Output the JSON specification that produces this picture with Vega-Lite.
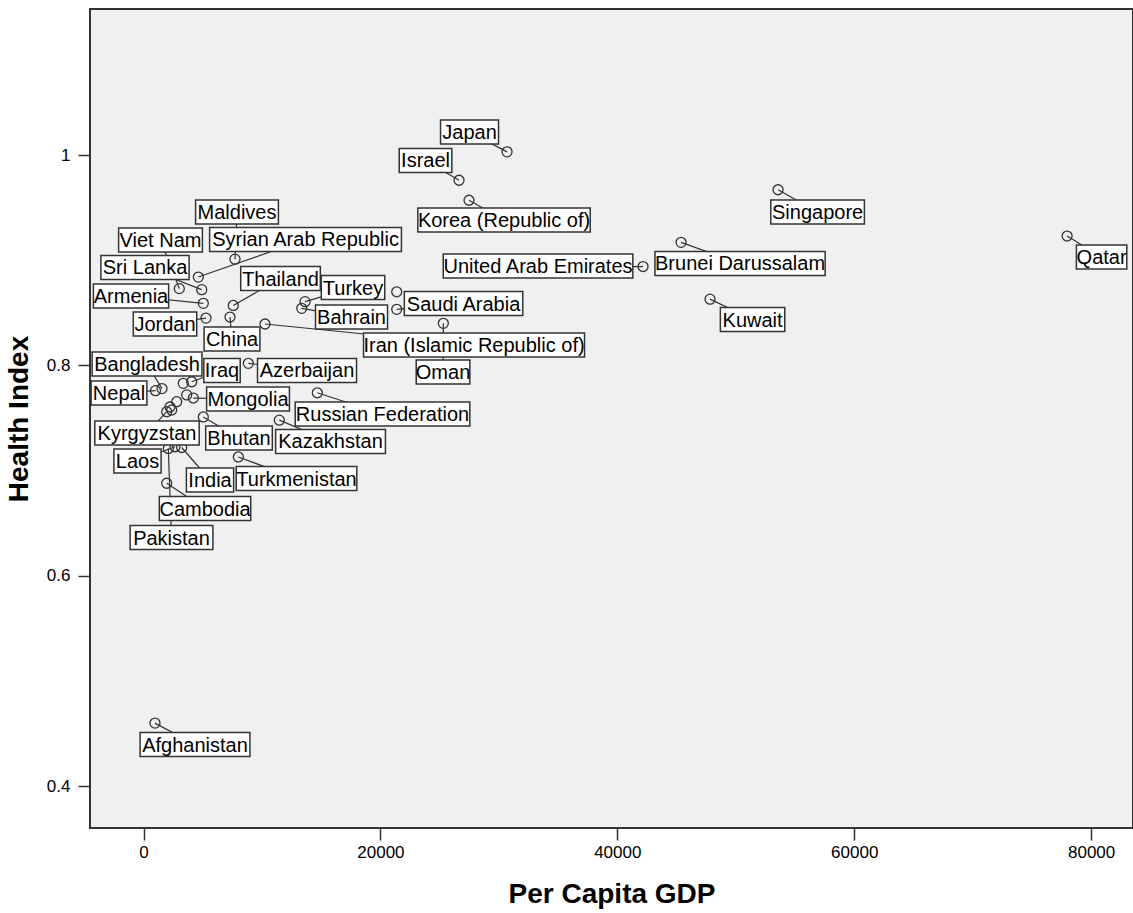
{
  "$schema": "https://vega.github.io/schema/vega-lite/v6.json",
  "width": 1043,
  "height": 819,
  "autosize": {"type": "none"},
  "padding": {"left": 90, "top": 9, "right": 0, "bottom": 85},
  "background": "white",
  "config": {
    "view": {"fill": "#F0F0F0", "stroke": "#333333", "strokeWidth": 2},
    "font": "Liberation Sans",
    "axis": {
      "grid": false,
      "domain": false,
      "tickColor": "#333333",
      "tickSize": 12,
      "tickWidth": 1.5,
      "labelColor": "#000000",
      "labelFont": "Liberation Sans",
      "labelFontSize": 17,
      "titleFont": "Liberation Sans",
      "titleFontSize": 28,
      "titleFontWeight": "bold",
      "titleColor": "#000000"
    }
  },
  "data": {
    "values": [
      {"country": "Japan", "gdp": 30690, "health": 1.003, "labelGdp": 27525, "labelHealth": 1.0219},
      {"country": "Israel", "gdp": 26638, "health": 0.976, "labelGdp": 23810, "labelHealth": 0.9948},
      {"country": "Korea (Republic of)", "gdp": 27482, "health": 0.957, "labelGdp": 30437, "labelHealth": 0.9382},
      {"country": "Singapore", "gdp": 53571, "health": 0.967, "labelGdp": 56907, "labelHealth": 0.9458},
      {"country": "Qatar", "gdp": 77972, "health": 0.923, "labelGdp": 80885, "labelHealth": 0.903},
      {"country": "United Arab Emirates", "gdp": 42173, "health": 0.894, "labelGdp": 33308, "labelHealth": 0.8945},
      {"country": "Brunei Darussalam", "gdp": 45382, "health": 0.917, "labelGdp": 50363, "labelHealth": 0.8969},
      {"country": "Kuwait", "gdp": 47830, "health": 0.863, "labelGdp": 51419, "labelHealth": 0.8436},
      {"country": "Maldives", "gdp": 7725, "health": 0.901, "labelGdp": 7894, "labelHealth": 0.9458},
      {"country": "Syrian Arab Republic", "gdp": 4627, "health": 0.884, "labelGdp": 13678, "labelHealth": 0.9197},
      {"country": "Viet Nam", "gdp": 3023, "health": 0.873, "labelGdp": 1435, "labelHealth": 0.9192},
      {"country": "Sri Lanka", "gdp": 4914, "health": 0.872, "labelGdp": 127, "labelHealth": 0.8931},
      {"country": "Armenia", "gdp": 5049, "health": 0.859, "labelGdp": -1055, "labelHealth": 0.866},
      {"country": "Jordan", "gdp": 5277, "health": 0.845, "labelGdp": 1815, "labelHealth": 0.8394},
      {"country": "Thailand", "gdp": 7582, "health": 0.857, "labelGdp": 11567, "labelHealth": 0.8826},
      {"country": "China", "gdp": 7303, "health": 0.846, "labelGdp": 7472, "labelHealth": 0.8251},
      {"country": "Turkey", "gdp": 13636, "health": 0.8606, "labelGdp": 17688, "labelHealth": 0.874},
      {"country": "Bahrain", "gdp": 13357, "health": 0.8543, "labelGdp": 17562, "labelHealth": 0.846},
      {"country": "unlabelled", "gdp": 21378, "health": 0.87, "labelGdp": null, "labelHealth": null},
      {"country": "Saudi Arabia", "gdp": 21378, "health": 0.8533, "labelGdp": 27018, "labelHealth": 0.8588},
      {"country": "Iran (Islamic Republic of)", "gdp": 10258, "health": 0.8394, "labelGdp": 27904, "labelHealth": 0.8194},
      {"country": "Oman", "gdp": 25313, "health": 0.84, "labelGdp": 25287, "labelHealth": 0.7937},
      {"country": "Azerbaijan", "gdp": 8848, "health": 0.802, "labelGdp": 13804, "labelHealth": 0.7952},
      {"country": "Iraq", "gdp": 4070, "health": 0.7845, "labelGdp": 6628, "labelHealth": 0.7952},
      {"country": "unlabelled", "gdp": 3360, "health": 0.783, "labelGdp": null, "labelHealth": null},
      {"country": "Bangladesh", "gdp": 1562, "health": 0.778, "labelGdp": 296, "labelHealth": 0.8013},
      {"country": "Nepal", "gdp": 1013, "health": 0.776, "labelGdp": -2069, "labelHealth": 0.7738},
      {"country": "Mongolia", "gdp": 4205, "health": 0.769, "labelGdp": 8823, "labelHealth": 0.7681},
      {"country": "unlabelled", "gdp": 3647, "health": 0.772, "labelGdp": null, "labelHealth": null},
      {"country": "unlabelled", "gdp": 2803, "health": 0.7655, "labelGdp": null, "labelHealth": null},
      {"country": "Kyrgyzstan", "gdp": 1959, "health": 0.756, "labelGdp": 296, "labelHealth": 0.7357},
      {"country": "unlabelled", "gdp": 2381, "health": 0.7576, "labelGdp": null, "labelHealth": null},
      {"country": "unlabelled", "gdp": 2237, "health": 0.7605, "labelGdp": null, "labelHealth": null},
      {"country": "Bhutan", "gdp": 5049, "health": 0.751, "labelGdp": 8063, "labelHealth": 0.731},
      {"country": "Kazakhstan", "gdp": 11466, "health": 0.748, "labelGdp": 15789, "labelHealth": 0.7277},
      {"country": "Russian Federation", "gdp": 14674, "health": 0.774, "labelGdp": 20179, "labelHealth": 0.7538},
      {"country": "Turkmenistan", "gdp": 8004, "health": 0.713, "labelGdp": 12918, "labelHealth": 0.6925},
      {"country": "Laos", "gdp": 2660, "health": 0.7227, "labelGdp": -507, "labelHealth": 0.7091},
      {"country": "India", "gdp": 3225, "health": 0.722, "labelGdp": 5615, "labelHealth": 0.6911},
      {"country": "Pakistan", "gdp": 2094, "health": 0.721, "labelGdp": 2364, "labelHealth": 0.6364},
      {"country": "Cambodia", "gdp": 1959, "health": 0.688, "labelGdp": 5193, "labelHealth": 0.664},
      {"country": "Afghanistan", "gdp": 971, "health": 0.46, "labelGdp": 4348, "labelHealth": 0.4396}
    ]
  },
  "layer": [
    {
      "transform": [{"filter": "datum.labelGdp != null"}],
      "mark": {"type": "rule", "color": "#333333", "strokeWidth": 1.2},
      "encoding": {
        "x": {"field": "gdp", "type": "quantitative",
          "scale": {"domain": [-4517, 83536], "nice": false, "zero": false},
          "axis": {"values": [0, 20000, 40000, 60000, 80000], "format": "d", "title": "Per Capita GDP", "labelPadding": 4, "titlePadding": 20}},
        "y": {"field": "health", "type": "quantitative",
          "scale": {"domain": [0.3603, 1.1388], "nice": false, "zero": false},
          "axis": {"values": [0.4, 0.6, 0.8, 1], "format": "~g", "title": "Health Index", "labelPadding": 8, "titlePadding": 13}},
        "x2": {"field": "labelGdp"},
        "y2": {"field": "labelHealth"}
      }
    },
    {
      "mark": {"type": "point", "shape": "circle", "filled": false, "size": 100, "stroke": "#333333", "strokeWidth": 1.3, "opacity": 1},
      "encoding": {
        "x": {"field": "gdp", "type": "quantitative"},
        "y": {"field": "health", "type": "quantitative"}
      }
    },
    {
      "transform": [{"filter": "datum.labelGdp != null"}],
      "mark": {
        "type": "rect",
        "fill": "white",
        "stroke": "#333333",
        "strokeWidth": 1.5,
        "height": 24,
        "width": {"expr": "10.8*length(datum.country) - 5.4*length(replace(datum.country, regexp('[^ijlftrI ()]', 'g'), '')) + 3.2*length(replace(datum.country, regexp('[^ABCDEGHKMNOPQRSUVWXYZmw]', 'g'), '')) + 4"}
      },
      "encoding": {
        "x": {"field": "labelGdp", "type": "quantitative"},
        "y": {"field": "labelHealth", "type": "quantitative"}
      }
    },
    {
      "transform": [{"filter": "datum.labelGdp != null"}],
      "mark": {"type": "text", "font": "Liberation Sans", "fontSize": 20, "color": "#000000", "align": "center", "baseline": "middle", "dy": 1},
      "encoding": {
        "x": {"field": "labelGdp", "type": "quantitative"},
        "y": {"field": "labelHealth", "type": "quantitative"},
        "text": {"field": "country"}
      }
    }
  ]
}
